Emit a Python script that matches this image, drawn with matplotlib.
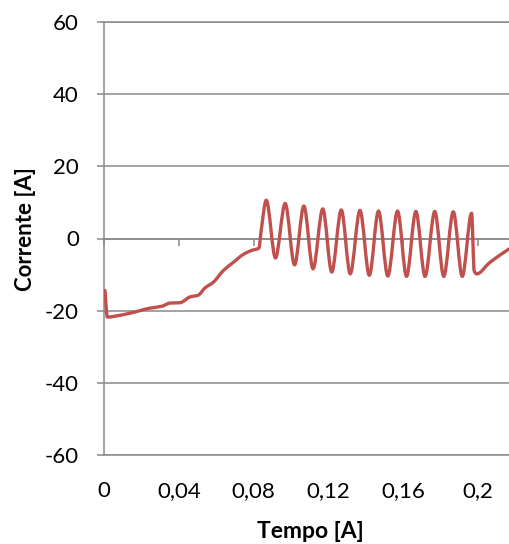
import numpy as np
import matplotlib
matplotlib.use("Agg")
import matplotlib.pyplot as plt
from matplotlib.path import Path
from matplotlib.patches import PathPatch

# Current waveform samples (time in s, current in A)
tempo = [0.0005, 0.0018, 0.0050, 0.0139, 0.0246, 0.0308, 0.0353, 0.0406,
         0.0460, 0.0504, 0.0540, 0.0585, 0.0638, 0.0692, 0.0745, 0.0790,
         0.0829, 0.0838, 0.0868, 0.0917, 0.0969, 0.1019, 0.1069, 0.1118,
         0.1170, 0.1218, 0.1269, 0.1317, 0.1369, 0.1419, 0.1468, 0.1518,
         0.1570, 0.1618, 0.1668, 0.1717, 0.1769, 0.1817, 0.1868, 0.1916,
         0.1966, 0.1980, 0.1993, 0.2064, 0.2166]
corrente = [-14.4, -21.8, -21.6, -20.7, -19.3, -18.8, -17.9, -17.8,
            -16.2, -15.7, -13.7, -12.1, -8.9, -6.6, -4.4, -3.3,
            -2.6, 1.1, 10.6, -5.4, 9.7, -7.3, 9.0, -8.4,
            8.2, -9.3, 7.9, -9.8, 7.8, -10.2, 7.6, -10.4,
            7.6, -10.5, 7.5, -10.5, 7.5, -10.5, 7.4, -10.5,
            7.0, -9.0, -9.8, -6.6, -2.9]

x_ticks = [0, 0.04, 0.08, 0.12, 0.16, 0.2]
x_tick_labels = ["0", "0,04", "0,08", "0,12", "0,16", "0,2"]
y_ticks = [-60, -40, -20, 0, 20, 40, 60]
y_tick_labels = ["-60", "-40", "-20", "0", "20", "40", "60"]

LINE_COLOR = "#C0504D"
AXIS_GRAY = "#898989"
FONT = ["Lato", "DejaVu Sans"]


def smooth_path(x, y):
    """Monotone cubic (Fritsch-Carlson) Bezier path through the samples."""
    x = np.asarray(x, float)
    y = np.asarray(y, float)
    h = np.diff(x)
    d = np.diff(y) / h
    n = len(x)
    m = np.zeros(n)
    m[0], m[-1] = d[0], d[-1]
    for k in range(1, n - 1):
        if d[k - 1] * d[k] > 0:
            w1 = 2 * h[k] + h[k - 1]
            w2 = h[k] + 2 * h[k - 1]
            m[k] = (w1 + w2) / (w1 / d[k - 1] + w2 / d[k])
    verts = [(x[0], y[0])]
    codes = [Path.MOVETO]
    for k in range(n - 1):
        verts += [(x[k] + h[k] / 3, y[k] + m[k] * h[k] / 3),
                  (x[k + 1] - h[k] / 3, y[k + 1] - m[k + 1] * h[k] / 3),
                  (x[k + 1], y[k + 1])]
        codes += [Path.CURVE4] * 3
    return Path(verts, codes)


plt.rcParams["font.family"] = FONT

fig = plt.figure(figsize=(5.09, 5.44), dpi=100)
ax = fig.add_axes([104 / 509, 1 - 455 / 544, 1 - 104 / 509, 433 / 544])

ax.set_xlim(0, 0.2166)
ax.set_ylim(-60, 60)

# horizontal gridlines
ax.set_yticks(y_ticks)
ax.set_yticklabels(y_tick_labels)
ax.yaxis.grid(True, color=AXIS_GRAY, linewidth=1.1)
ax.set_axisbelow(True)

ax.set_xticks(x_ticks)
ax.set_xticklabels(x_tick_labels)

for side in ("top", "bottom", "left"):
    ax.spines[side].set_color(AXIS_GRAY)
    ax.spines[side].set_linewidth(1.1)
ax.spines["right"].set_visible(False)

ax.tick_params(axis="y", direction="out", length=5, width=1.1,
               color=AXIS_GRAY, labelsize=16, pad=13)
ax.tick_params(axis="x", length=0, labelsize=16, pad=19)

# horizontal axis crossing at zero, ticks pointing down
zero_axis = ax.secondary_xaxis(0, transform=ax.transData)
zero_axis.set_xticks(x_ticks)
zero_axis.set_xticklabels([])
zero_axis.tick_params(direction="out", length=5, width=1.1, color=AXIS_GRAY)
for sp in zero_axis.spines.values():
    sp.set_color(AXIS_GRAY)
    sp.set_linewidth(1.1)

curve = PathPatch(smooth_path(tempo, corrente), facecolor="none",
                  edgecolor=LINE_COLOR, linewidth=2.4,
                  capstyle="round", joinstyle="round", zorder=3)
ax.add_patch(curve)

fig.text(25 / 509, 1 - 229 / 544, "Corrente [A]", rotation=90,
         ha="center", va="center", fontsize=16, fontweight="bold")
fig.text(310 / 509, 1 - 532 / 544, "Tempo [A]",
         ha="center", va="center", fontsize=16.5, fontweight="bold")

fig.savefig("out.png", dpi=100)
